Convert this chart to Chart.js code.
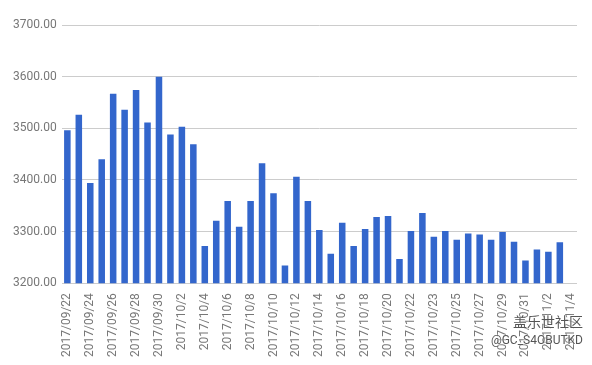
<!DOCTYPE html>
<html>
<head>
<meta charset="utf-8">
<script src="https://cdn.jsdelivr.net/npm/chart.js@4"></script>
<style>
  html, body { margin: 0; padding: 0; background: #fff; }
  #wrap { position: relative; width: 592px; height: 365px; }
  .mark { position: absolute; right: 9px; font-family: "Noto Sans CJK SC", "Liberation Sans", sans-serif; color: #555;
          text-shadow: 0 0 2px #fff, 0 0 2px #fff; }
</style>
</head>
<body>
<div id="wrap">
  <canvas id="chart" width="592" height="365"></canvas>
  <div class="mark" style="top:311px;font-size:14px;">盖乐世社区</div>
  <div class="mark" style="top:333px;font-size:12px;font-family:Roboto,sans-serif;">@GC_S4OBUTKD</div>
</div>
<script>
// dates shown on the x axis (every other one is labelled)
const dates = [
  '2017/09/22', '2017/09/23', '2017/09/24', '2017/09/25', '2017/09/26',
  '2017/09/27', '2017/09/28', '2017/09/29', '2017/09/30', '2017/10/1',
  '2017/10/2', '2017/10/3', '2017/10/4', '2017/10/5', '2017/10/6',
  '2017/10/7', '2017/10/8', '2017/10/9', '2017/10/10', '2017/10/11',
  '2017/10/12', '2017/10/13', '2017/10/14', '2017/10/15', '2017/10/16',
  '2017/10/17', '2017/10/18', '2017/10/19', '2017/10/20', '2017/10/21',
  '2017/10/22', '2017/10/22', '2017/10/23', '2017/10/24', '2017/10/25',
  '2017/10/26', '2017/10/27', '2017/10/28', '2017/10/29', '2017/10/30',
  '2017/10/31', '2017/11/1', '2017/11/2', '2017/11/3', '2017/11/4'
];

const prices = [
  3496, 3526, 3394, 3440, 3567, 3536, 3574, 3511, 3600, 3488,
  3503, 3469, 3272, 3321, 3359, 3309, 3359, 3432, 3374, 3234,
  3406, 3359, 3303, 3257, 3317, 3272, 3305, 3328, 3330, 3247,
  3301, 3336, 3290, 3301, 3284, 3296, 3294, 3284, 3299, 3280,
  3244, 3265, 3261, 3279, null
];

const yMin = 3200;
const yMax = 3700;

const ctx = document.getElementById('chart').getContext('2d');
const chart = new Chart(ctx, {
  type: 'bar',
  data: {
    labels: dates,
    datasets: [{
      label: 'price',
      data: prices,
      backgroundColor: '#3366cc',
      barPercentage: 0.57,
      categoryPercentage: 1.0
    }]
  },
  options: {
    responsive: false,
    animation: false,
    layout: { padding: { top: 25, right: 15, left: 8, bottom: 6 } },
    plugins: {
      legend: { display: false },
      tooltip: { enabled: false }
    },
    scales: {
      x: {
        grid: { display: false },
        border: { display: false },
        ticks: {
          autoSkip: false,
          minRotation: 90,
          maxRotation: 90,
          padding: 2,
          color: '#777777',
          font: { family: 'Roboto', size: 12 },
          callback: function(value, index) {
            return index % 2 === 0 ? this.getLabelForValue(value) : '';
          }
        }
      },
      y: {
        min: yMin,
        max: yMax,
        border: { display: false },
        grid: { color: '#cccccc', drawTicks: false },
        ticks: {
          stepSize: 100,
          padding: 5,
          color: '#777777',
          font: { family: 'Roboto', size: 12 },
          callback: (v) => v.toFixed(2)
        }
      }
    }
  }
});
</script>
</body>
</html>
